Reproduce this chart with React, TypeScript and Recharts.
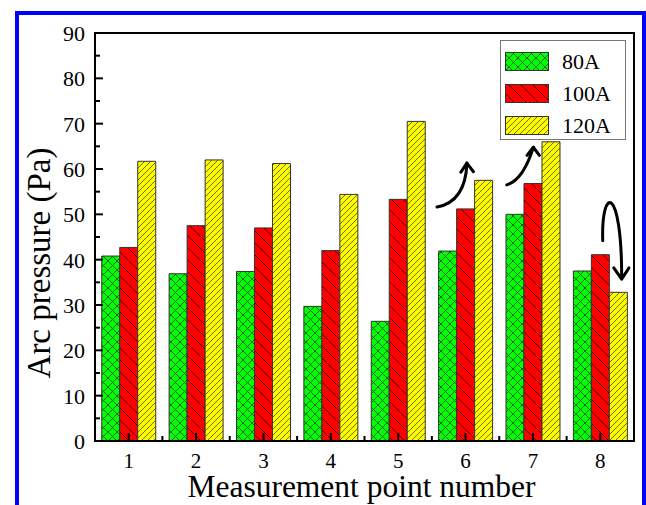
import React from "react";
import { BarChart, Bar, XAxis, YAxis, Legend, Label } from "recharts";

const categories = ["1", "2", "3", "4", "5", "6", "7", "8"];
const current80 = [40.8, 36.9, 37.4, 29.7, 26.4, 41.9, 50.0, 37.5];
const current100 = [42.7, 47.5, 47.0, 42.0, 53.3, 51.2, 56.8, 41.1];
const current120 = [61.7, 62.0, 61.2, 54.4, 70.5, 57.5, 66.0, 32.8];
const yTicks = [0, 5, 10, 15, 20, 25, 30, 35, 40, 45, 50, 55, 60, 65, 70, 75, 80, 85, 90];

const series = [
  { key: "a80", name: "80A", fill: "url(#pGreen)" },
  { key: "a100", name: "100A", fill: "url(#pRed)" },
  { key: "a120", name: "120A", fill: "url(#pYellow)" },
];

const data = categories.map((c, i) => ({
  cat: c,
  a80: current80[i],
  a100: current100[i],
  a120: current120[i],
}));

const W = 646;
const H = 505;
const FONT = "'Liberation Serif', 'Times New Roman', serif";
const PLOT = { left: 95, right: 634, top: 33, bottom: 441 };
const band = (PLOT.right - PLOT.left) / categories.length;
const yMax = 90;

// annotation helpers: category units / data values -> pixels
const px = (u: number) => PLOT.left + u * band;
const py = (v: number) => PLOT.bottom - (v / yMax) * (PLOT.bottom - PLOT.top);

const YTick = (props: any) => {
  const { x, y, payload } = props;
  const v = payload.value;
  const major = v % 10 === 0;
  const ax = x + 10;
  return (
    <g>
      <line x1={ax} x2={ax + (major ? 8 : 5)} y1={y} y2={y} stroke="#000" strokeWidth={2} />
      {major && (
        <text x={x} y={y} dy="0.36em" textAnchor="end" fontSize={22} fontFamily={FONT} fill="#000">
          {v}
        </text>
      )}
    </g>
  );
};

const XTick = (props: any) => {
  const { x, y, payload, index } = props;
  return (
    <g>
      <line x1={x} x2={x} y1={y} y2={y - 8} stroke="#000" strokeWidth={2} />
      {index < categories.length - 1 && (
        <line x1={x + band / 2} x2={x + band / 2} y1={y} y2={y - 5} stroke="#000" strokeWidth={2} />
      )}
      <text x={x} y={y + 27} textAnchor="middle" fontSize={21} fontFamily={FONT} fill="#000">
        {payload.value}
      </text>
    </g>
  );
};

const XTitle = (props: any) => {
  const vb = props.viewBox;
  return (
    <text x={vb.x + vb.width / 2 - 3} y={497} textAnchor="middle" fontSize={31.5} fontFamily={FONT} fill="#000">
      Measurement point number
    </text>
  );
};

const YTitle = () => (
  <text
    transform={`translate(50,263) rotate(-90)`}
    textAnchor="middle"
    fontSize={33}
    fontFamily={FONT}
    fill="#000"
  >
    Arc pressure (Pa)
  </text>
);

const LegendBox = () => (
  <svg width={126} height={100} style={{ display: "block" }}>
    <rect x={0.5} y={0.5} width={125} height={99} fill="#fff" stroke="#777" strokeWidth={1} />
    {series.map((s, i) => (
      <g key={s.key}>
        <rect x={5.5} y={12.5 + i * 32} width={43} height={18} fill={s.fill} stroke="#333" strokeWidth={1} />
        <text x={62} y={28.5 + i * 32} fontSize={22} fontFamily={FONT} fill="#000">
          {s.name}
        </text>
      </g>
    ))}
  </svg>
);

export default function App() {
  return (
    <div
      style={{
        position: "absolute",
        left: 0,
        top: 0,
        width: W,
        height: H,
        background: "#fff",
        overflow: "hidden",
        fontFamily: FONT,
      }}
    >
      <div
        style={{
          position: "absolute",
          left: 15,
          top: 11,
          width: 631,
          height: 520,
          border: "4px solid #0000ff",
          boxSizing: "border-box",
        }}
      />
      <div style={{ position: "absolute", left: 0, top: 0 }}>
        <BarChart
          width={W}
          height={H}
          data={data}
          margin={{ top: 33, right: 12, bottom: 0, left: 0 }}
          barCategoryGap="10%"
          barGap={0}
        >
          <defs>
            <pattern id="pGreen" width="9" height="9" patternUnits="userSpaceOnUse">
              <rect width="9" height="9" fill="#00ff00" />
              <path d="M-1,-1 L10,10 M10,-1 L-1,10" stroke="#1f4f1f" strokeWidth="0.9" />
            </pattern>
            <pattern id="pRed" width="12" height="12" patternUnits="userSpaceOnUse">
              <rect width="12" height="12" fill="#ff0000" />
              <path d="M-1,-1 L13,13 M-2,10 L2,14 M10,-2 L14,2" stroke="#3a0000" strokeWidth="0.9" />
            </pattern>
            <pattern id="pYellow" width="6" height="6" patternUnits="userSpaceOnUse">
              <rect width="6" height="6" fill="#ffff00" />
              <path d="M-1,7 L7,-1 M-1,1 L1,-1 M5,7 L7,5" stroke="#4a4a00" strokeWidth="0.8" />
            </pattern>
          </defs>
          <XAxis
            dataKey="cat"
            height={64}
            tickSize={0}
            tickMargin={0}
            tickLine={false}
            tick={<XTick />}
            interval={0}
            axisLine={{ stroke: "#000", strokeWidth: 2 }}
          >
            <Label content={<XTitle />} />
          </XAxis>
          <YAxis
            width={95}
            domain={[0, 90]}
            ticks={yTicks}
            interval={0}
            tickSize={0}
            tickMargin={10}
            tickLine={false}
            tick={<YTick />}
            axisLine={{ stroke: "#000", strokeWidth: 2 }}
          >
            <Label content={<YTitle />} />
          </YAxis>
          <Legend
            layout="vertical"
            align="center"
            verticalAlign="middle"
            content={<LegendBox />}
            wrapperStyle={{ position: "absolute", left: 500, top: 40, width: 126, height: 100 }}
          />
          {series.map((s) => (
            <Bar
              key={s.key}
              dataKey={s.key}
              name={s.name}
              fill={s.fill}
              stroke="#333"
              strokeWidth={1}
              isAnimationActive={false}
            />
          ))}
        </BarChart>
      </div>
      <svg width={W} height={H} style={{ position: "absolute", left: 0, top: 0, pointerEvents: "none" }}>
        {/* plot frame */}
        <rect
          x={PLOT.left}
          y={PLOT.top}
          width={PLOT.right - PLOT.left}
          height={PLOT.bottom - PLOT.top}
          fill="none"
          stroke="#000"
          strokeWidth={2}
        />
        <g fill="none" stroke="#000" strokeWidth={3} strokeLinecap="round" strokeLinejoin="round">
          <path d={`M${px(5.076)},${py(51.6)} Q${px(5.5)},${py(52.8)} ${px(5.52)},${py(61.3)}`} />
          <path d={`M${px(5.43)},${py(59.3)} L${px(5.52)},${py(61.3)} L${px(5.617)},${py(59.4)}`} />
          <path d={`M${px(6.111)},${py(56.5)} Q${px(6.357)},${py(57.6)} ${px(6.506)},${py(64.8)}`} />
          <path d={`M${px(6.412)},${py(63.0)} L${px(6.506)},${py(64.8)} L${px(6.596)},${py(63.0)}`} />
          <path
            d={`M${px(7.536)},${py(44.2)} C${px(7.51)},${py(56.5)} ${px(7.82)},${py(56.5)} ${px(7.817)},${py(36.0)}`}
          />
          <path d={`M${px(7.70)},${py(38.2)} L${px(7.817)},${py(35.7)} L${px(7.925)},${py(38.2)}`} />
        </g>
      </svg>
    </div>
  );
}
